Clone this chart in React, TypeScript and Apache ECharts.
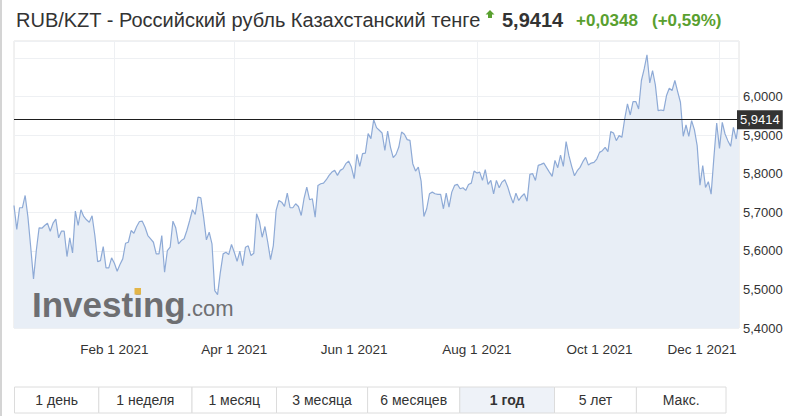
import React, { useEffect, useRef } from 'react';
import * as echarts from 'echarts';

const TITLE = 'RUB/KZT - Российский рубль Казахстанский тенге';
const LAST_PRICE = 5.9414;
const CHANGE = '+0,0348';
const CHANGE_PCT = '(+0,59%)';

const START_DATE = '2020-12-11';
const END_DATE = '2021-12-10';

const TICK_DATES = ['2021-02-01', '2021-04-01', '2021-06-01', '2021-08-02', '2021-10-01', '2021-12-01'];
const TICK_LABELS = ['Feb 1 2021', 'Apr 1 2021', 'Jun 1 2021', 'Aug 1 2021', 'Oct 1 2021', 'Dec 1 2021'];

const PERIODS = ['1 день', '1 неделя', '1 месяц', '3 месяца', '6 месяцев', '1 год', '5 лет', 'Макс.'];
const ACTIVE_PERIOD = '1 год';

const VALUES = [
  5.7177, 5.6553, 5.7117, 5.7117, 5.7436, 5.6873, 5.6094, 5.5273, 5.6008, 5.6597,
  5.6587, 5.6657, 5.6717, 5.6509, 5.6717, 5.6821, 5.6338, 5.6509, 5.6509, 5.5852,
  5.6338, 5.5948, 5.7029, 5.6657, 5.7065, 5.6891, 5.6805, 5.6743, 5.6909, 5.6397,
  5.5722, 5.5748, 5.6112, 5.5558, 5.5558, 5.5818, 5.5678, 5.5470, 5.5644, 5.5792,
  5.6197, 5.6223, 5.6527, 5.6457, 5.6631, 5.6761, 5.6769, 5.6613, 5.6397, 5.6312,
  5.6223, 5.5922, 5.5922, 5.6397, 5.5444, 5.6008, 5.6094, 5.6769, 5.6597, 5.6182,
  5.6268, 5.6312, 5.6527, 5.6787, 5.7065, 5.6943, 5.7392, 5.7377, 5.6873, 5.6286,
  5.6483, 5.6182, 5.4969, 5.4865, 5.5444, 5.5922, 5.5964, 5.5904, 5.6164, 5.5964,
  5.5730, 5.5990, 5.5618, 5.6094, 5.6130, 5.5878, 5.5938, 5.6961, 5.6769, 5.6353,
  5.6631, 5.6223, 5.5774, 5.6138, 5.7047, 5.7306, 5.7262, 5.7151, 5.7496, 5.7117,
  5.7117, 5.7221, 5.7151, 5.6917, 5.7351, 5.7652, 5.7325, 5.7351, 5.6873, 5.7696,
  5.7740, 5.7756, 5.7844, 5.7956, 5.8042, 5.8086, 5.7956, 5.8086, 5.8130, 5.8260,
  5.8327, 5.8171, 5.7870, 5.8501, 5.8190, 5.8519, 5.8535, 5.9039, 5.8909, 5.9403,
  5.9195, 5.9125, 5.9055, 5.8605, 5.9106, 5.8691, 5.8416, 5.8501, 5.8691, 5.9081,
  5.9021, 5.8883, 5.8865, 5.8260, 5.8068, 5.8171, 5.7808, 5.6891, 5.7091, 5.7480,
  5.7522, 5.7480, 5.7462, 5.7462, 5.7091, 5.7496, 5.7132, 5.7522, 5.7696, 5.7722,
  5.7610, 5.7636, 5.7566, 5.7722, 5.7756, 5.8068, 5.8016, 5.8042, 5.7826, 5.8104,
  5.7722, 5.7826, 5.7480, 5.7826, 5.7636, 5.7782, 5.7844, 5.7670, 5.7436, 5.7236,
  5.7496, 5.7306, 5.7410, 5.7480, 5.7288, 5.7982, 5.8000, 5.7826, 5.8216, 5.8242,
  5.8275, 5.8156, 5.8042, 5.7930, 5.8345, 5.8156, 5.8483, 5.8190, 5.8831, 5.8468,
  5.8190, 5.7948, 5.8078, 5.8164, 5.8312, 5.8423, 5.8223, 5.8275, 5.8294, 5.8379,
  5.8553, 5.8597, 5.8683, 5.8571, 5.9091, 5.9055, 5.8857, 5.8987, 5.8943, 5.9418,
  5.9808, 5.9522, 5.9870, 5.9870, 5.9678, 6.0416, 6.0717, 6.1080, 6.0353, 6.0675,
  6.0301, 5.9636, 5.9652, 5.9636, 6.0026, 6.0216, 6.0156, 6.0416, 6.0130, 5.9852,
  5.8969, 5.9262, 5.8969, 5.9377, 5.9143, 5.8727, 5.7704, 5.8208, 5.7644, 5.7792,
  5.7470, 5.8423, 5.9314, 5.8657, 5.9332, 5.9029, 5.8857, 5.8709, 5.9203, 5.8899,
  5.9414,
];

function tradingDays(start: string, end: string): string[] {
  const out: string[] = [];
  let t = Date.parse(start + 'T00:00:00Z');
  const e = Date.parse(end + 'T00:00:00Z');
  while (t <= e) {
    const d = new Date(t);
    const w = d.getUTCDay();
    if (w !== 0 && w !== 6) out.push(d.toISOString().slice(0, 10));
    t += 86400000;
  }
  return out;
}

const FONT = '"Liberation Sans", Arial, sans-serif';
const GREEN = '#59a02f';

export default function App() {
  const ref = useRef<HTMLDivElement>(null);

  useEffect(() => {
    document.body.style.margin = '0';
    const chart = echarts.init(ref.current!, null, { renderer: 'svg' });
    const dates = tradingDays(START_DATE, END_DATE);
    const data = dates.map((d, i) => [d, VALUES[i]]);
    const isTick = (_i: number, v: string) => TICK_DATES.indexOf(v) >= 0;

    const edges = [14.5, 98.8, 192, 276.5, 367.6, 459.8, 554.5, 636.4, 726];
    const btnTop = 387;
    const btnH = 26;
    const buttons: any[] = [];
    PERIODS.forEach((p, i) => {
      const x0 = edges[i];
      const x1 = edges[i + 1];
      const active = p === ACTIVE_PERIOD;
      buttons.push({
        type: 'rect',
        shape: { x: x0, y: btnTop, width: x1 - x0, height: btnH },
        style: { fill: active ? '#eef2f8' : '#ffffff', stroke: '#dcdcdc', lineWidth: 1 },
      });
      buttons.push({
        type: 'text',
        style: {
          x: (x0 + x1) / 2,
          y: btnTop + btnH / 2,
          text: p,
          font: `${active ? 'bold ' : ''}14px ${FONT}`,
          fill: '#333',
          align: 'center',
          verticalAlign: 'middle',
        },
      });
    });

    chart.setOption({
      animation: false,
      backgroundColor: '#ffffff',
      grid: {
        left: 14,
        right: 64,
        top: 41,
        bottom: 88,
        show: true,
        borderColor: '#e2e2e2',
        borderWidth: 1,
        backgroundColor: 'transparent',
      },
      xAxis: {
        type: 'category',
        data: dates,
        boundaryGap: false,
        axisLine: { show: false },
        axisTick: { show: false },
        axisLabel: {
          interval: isTick,
          margin: 14,
          color: '#333',
          fontSize: 13.5,
          fontFamily: FONT,
          formatter: (v: string) => {
            const k = TICK_DATES.indexOf(v);
            if (k < 0) return '';
            if (k === TICK_DATES.length - 1) return '{d|' + TICK_LABELS[k] + '}';
            return TICK_LABELS[k];
          },
          rich: {
            d: { padding: [0, 35, 0, 0], color: '#333', fontSize: 13.5, fontFamily: FONT },
          },
        },
        splitLine: { show: true, interval: isTick, lineStyle: { color: '#eef0f3', width: 1 } },
      },
      yAxis: {
        type: 'value',
        position: 'right',
        min: 5.4,
        max: 6.144,
        interval: 0.1,
        axisLine: { show: false },
        axisTick: { show: false },
        axisLabel: {
          margin: 4,
          color: '#333',
          fontSize: 13,
          fontFamily: FONT,
          formatter: (v: number) => (v > 6.05 ? '' : v.toFixed(4).replace('.', ',')),
        },
        splitLine: { show: true, lineStyle: { color: '#eef0f3', width: 1 } },
      },
      series: [
        {
          type: 'line',
          data,
          showSymbol: false,
          symbol: 'none',
          lineStyle: { color: '#8eaad6', width: 1.2 },
          areaStyle: { color: '#e8eef6', opacity: 1 },
          markLine: {
            silent: true,
            symbol: ['none', 'none'],
            data: [{ yAxis: LAST_PRICE }],
            lineStyle: { color: '#1e1e1e', width: 1, type: 'solid' },
            label: {
              show: true,
              position: 'end',
              distance: -2,
              formatter: LAST_PRICE.toFixed(4).replace('.', ','),
              color: '#ffffff',
              backgroundColor: '#333333',
              padding: [3, 3, 3, 3],
              fontSize: 13,
              fontFamily: FONT,
            },
          },
        },
      ],
      graphic: [
        { type: 'rect', shape: { x: 0, y: 0, width: 2, height: 416 }, style: { fill: '#d4d4d4' } },
        {
          type: 'text',
          style: { x: 16, y: 20, text: TITLE, font: `20px ${FONT}`, fill: '#333', align: 'left', verticalAlign: 'middle' },
        },
        {
          type: 'polygon',
          shape: { points: [[490, 10], [494.5, 14.5], [492, 14.5], [492, 18], [488, 18], [488, 14.5], [485.5, 14.5]] },
          style: { fill: GREEN },
        },
        {
          type: 'text',
          style: { x: 502, y: 20, text: LAST_PRICE.toFixed(4).replace('.', ','), font: `bold 20px ${FONT}`, fill: '#333', align: 'left', verticalAlign: 'middle' },
        },
        {
          type: 'text',
          style: { x: 576, y: 20, text: CHANGE, font: `bold 17px ${FONT}`, fill: GREEN, align: 'left', verticalAlign: 'middle' },
        },
        {
          type: 'text',
          style: { x: 652, y: 20, text: CHANGE_PCT, font: `bold 17px ${FONT}`, fill: GREEN, align: 'left', verticalAlign: 'middle' },
        },
        {
          type: 'text',
          z: 10,
          style: { x: 32, y: 304, text: 'Investing', font: `bold 35px ${FONT}`, fill: '#6e6f72', align: 'left', verticalAlign: 'middle' },
        },
        {
          type: 'text',
          z: 10,
          style: { x: 186, y: 308, text: '.com', font: `22px ${FONT}`, fill: '#6e6f72', align: 'left', verticalAlign: 'middle' },
        },
        { type: 'rect', z: 11, shape: { x: 134.5, y: 288, width: 6.5, height: 6.5 }, style: { fill: '#e3b548' } },
        ...buttons,
      ],
    });
    return () => chart.dispose();
  }, []);

  return <div ref={ref} style={{ position: 'fixed', left: 0, top: 0, width: 803, height: 416 }} />;
}
